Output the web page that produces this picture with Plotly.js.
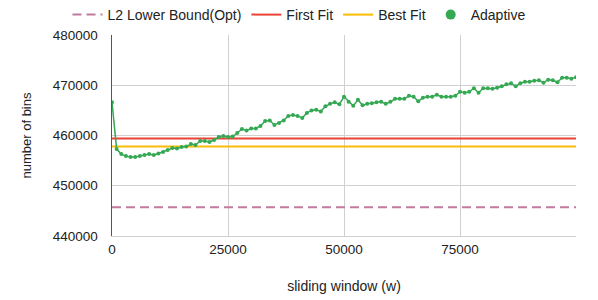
<!DOCTYPE html>
<html>
<head>
<meta charset="utf-8">
<script src="https://cdn.plot.ly/plotly-3.0.1.min.js"></script>
<style>html,body{margin:0;padding:0;background:#fff;}#chart{width:598px;height:300px;}</style>
</head>
<body>
<div id="chart"></div>
<script>
// window sizes (w)
var windowSizes = [];
for (var i = 0; i <= 100; i++) windowSizes.push(i * 1000);

// horizontal reference values
var l2LowerBound = 445700;
var firstFit = 459400;
var bestFit = 457800;

// Adaptive series (number of bins)
var adaptive = [
  466600, 457300, 456300, 455900, 455700, 455700, 455900, 456100, 456300, 456100,
  456400, 456700, 457100, 457500, 457400, 457700, 457800, 458300, 458100, 458900,
  458900, 458700, 459100, 459700, 459900, 459700, 459800, 460500, 461300, 461000,
  461400, 461400, 461900, 462900, 463000, 462100, 462500, 463000, 463900, 464100,
  463900, 463500, 464500, 465000, 465100, 464800, 465800, 466300, 466600, 466200,
  467700, 466700, 465900, 467100, 466000, 466300, 466400, 466600, 466700, 466300,
  466700, 467300, 467300, 467300, 467900, 467700, 466800, 467500, 467700, 467700,
  468100, 467700, 467700, 467700, 467900, 468700, 468500, 468700, 469400, 468500,
  469400, 469400, 469300, 469500, 469800, 470200, 470400, 469800, 470400, 470700,
  470700, 470900, 471000, 470500, 471100, 471000, 470600, 471500, 471500, 471300,
  471600
];

var xTickVals = [0, 25000, 50000, 75000, 100000];
var xTickText = ['0', '25000', '50000', '75000', ''];
var yTickVals = [440000, 450000, 460000, 470000, 480000];
var yTickText = ['440000', '450000', '460000', '470000', '480000'];

var font = 'Liberation Sans, Arial, sans-serif';
var xs = [windowSizes[0], windowSizes[windowSizes.length - 1]];

var traces = [
  {x: xs, y: [l2LowerBound, l2LowerBound], mode: 'lines', name: 'L2 Lower Bound(Opt)',
   line: {color: '#c27ba0', width: 2, dash: '9px,5px'}},
  {x: xs, y: [firstFit, firstFit], mode: 'lines', name: 'First Fit',
   line: {color: '#ea4335', width: 2}},
  {x: xs, y: [bestFit, bestFit], mode: 'lines', name: 'Best Fit',
   line: {color: '#fbbc04', width: 2}},
  {x: windowSizes, y: adaptive, mode: 'lines+markers', name: 'Adaptive', showlegend: false,
   line: {color: '#34a853', width: 1.5}, marker: {color: '#34a853', size: 4}},
  {x: [null], y: [null], mode: 'markers', name: 'Adaptive',
   marker: {color: '#34a853', size: 10}}
];

var layout = {
  width: 598, height: 300,
  margin: {l: 112, r: 22, t: 35, b: 64, autoexpand: false},
  paper_bgcolor: '#fff', plot_bgcolor: '#fff',
  font: {family: font, size: 13, color: '#222'},
  showlegend: true,
  legend: {orientation: 'h', xref: 'container', yref: 'container', x: 0.5, xanchor: 'center',
           y: 0.95, yanchor: 'middle', itemwidth: 30,
           font: {size: 14, color: '#222'}, traceorder: 'normal'},
  xaxis: {
    range: [0, 100000], tickvals: xTickVals, ticktext: xTickText,
    showgrid: true, gridcolor: '#d0d0d0', gridwidth: 1, zeroline: false,
    showline: true, linecolor: '#d0d0d0', ticks: '', ticklabelstandoff: 1,
    tickfont: {size: 13.5},
    automargin: false,
    title: {text: 'sliding window (w)', font: {size: 14, color: '#222'}, standoff: 24}
  },
  yaxis: {
    range: [440000, 480000], tickvals: yTickVals, ticktext: yTickText,
    showgrid: true, gridcolor: '#d0d0d0', gridwidth: 1, zeroline: false,
    showline: true, linecolor: '#555', linewidth: 1.5, ticks: '', ticklabelstandoff: 10,
    tickfont: {size: 13.5},
    automargin: false,
    title: {text: 'number of bins', font: {size: 13, color: '#222'}, standoff: 18}
  }
};

Plotly.newPlot('chart', traces, layout, {displayModeBar: false, staticPlot: true});
</script>
</body>
</html>
